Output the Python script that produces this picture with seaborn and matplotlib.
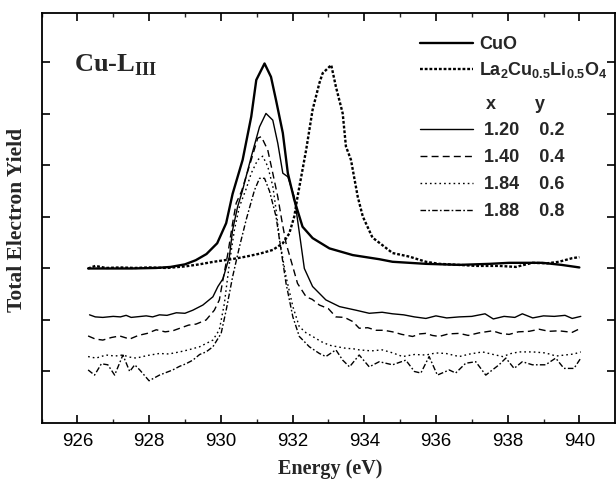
import numpy as np
import pandas as pd
import matplotlib
matplotlib.use("Agg")
import matplotlib.pyplot as plt
from matplotlib.lines import Line2D
from matplotlib.ticker import MultipleLocator, NullFormatter
import seaborn as sns

# ---------------- data ----------------
cuo_x = [926.3, 926.8, 927.5, 928.2, 928.6, 929.0, 929.3, 929.6, 929.9, 930.15, 930.33,
         930.61, 930.85, 930.99, 931.22, 931.40, 931.54, 931.73, 931.87, 932.05, 932.28,
         932.56, 933.03, 933.68, 934.42, 934.79, 935.72, 936.65, 937.5, 938.04, 938.97,
         939.5, 940.0]
cuo_y = [3.00, 3.00, 3.00, 3.01, 3.03, 3.08, 3.16, 3.28, 3.49, 3.88, 4.45,
         5.11, 5.95, 6.66, 6.98, 6.72, 6.27, 5.63, 4.85, 4.33, 3.81,
         3.59, 3.39, 3.26, 3.18, 3.13, 3.09, 3.07, 3.09, 3.11, 3.11,
         3.07, 3.02]

la_x = [926.3, 926.5, 926.8, 927.2, 927.6, 928.0, 928.5, 929.0, 929.4, 929.8, 930.3,
        930.7, 931.1, 931.45, 931.73, 931.91, 932.05, 932.14, 932.38, 932.56, 932.75,
        932.84, 933.08, 933.21, 933.40, 933.49, 933.63, 933.82, 933.96, 934.23, 934.42,
        934.79, 935.26, 935.72, 936.09, 936.65, 937.11, 937.76, 938.23, 938.69, 939.1,
        939.43, 939.8, 940.0]
la_y = [3.00, 3.05, 3.01, 3.02, 3.01, 3.02, 3.01, 3.04, 3.08, 3.13, 3.18,
        3.23, 3.29, 3.36, 3.49, 3.68, 4.01, 4.39, 5.30, 6.08, 6.60,
        6.79, 6.95, 6.53, 6.01, 5.37, 5.11, 4.39, 4.01, 3.60, 3.50,
        3.30, 3.23, 3.13, 3.09, 3.07, 3.05, 3.05, 3.03, 3.11, 3.10,
        3.13, 3.20, 3.22]

s02_x = [926.34, 926.5, 926.71, 927.0, 927.2, 927.36, 927.5, 927.92, 928.1, 928.29, 928.5,
         928.76, 929.0, 929.22, 929.5, 929.78, 929.92, 930.06, 930.24, 930.33, 930.47,
         930.6, 930.85, 931.08, 931.26, 931.45, 931.59, 931.73, 931.87, 932.05, 932.19,
         932.33, 932.56, 932.93, 933.31, 933.77, 934.14, 934.5, 934.79, 935.1, 935.4,
         935.72, 936.0, 936.3, 936.65, 937.0, 937.37, 937.6, 937.9, 938.2, 938.41,
         938.7, 939.0, 939.3, 939.6, 939.8, 940.04]
s02_y = [2.10, 2.06, 2.05, 2.07, 2.06, 2.09, 2.05, 2.08, 2.06, 2.10, 2.09,
         2.14, 2.13, 2.19, 2.29, 2.45, 2.65, 2.80, 3.23, 3.75, 4.20,
         4.50, 5.17, 5.75, 6.01, 5.88, 5.43, 4.85, 4.78, 4.39, 3.70,
         3.00, 2.65, 2.39, 2.26, 2.19, 2.13, 2.15, 2.12, 2.10, 2.06,
         2.03, 2.08, 2.04, 2.06, 2.07, 2.12, 2.02, 2.07, 2.05, 2.12,
         2.04, 2.08, 2.07, 2.09, 2.03, 2.07]

s04_x = [926.3, 926.5, 926.71, 926.95, 927.18, 927.46, 927.7, 927.95, 928.2, 928.45, 928.66,
         928.9, 929.1, 929.31, 929.59, 929.82, 929.96, 930.06, 930.2, 930.33, 930.43,
         930.58, 930.85, 931.03, 931.13, 931.31, 931.45, 931.59, 931.7, 931.82, 932.01,
         932.14, 932.38, 932.55, 932.75, 933.0, 933.21, 933.45, 933.68, 933.86, 934.1,
         934.33, 934.55, 934.79, 935.05, 935.35, 935.55, 935.72, 935.9, 936.09, 936.35,
         936.65, 936.9, 937.2, 937.58, 937.8, 938.04, 938.3, 938.6, 938.88, 939.15,
         939.43, 939.8, 940.04]
s04_y = [1.69, 1.63, 1.61, 1.66, 1.69, 1.63, 1.70, 1.74, 1.81, 1.77, 1.79,
         1.85, 1.90, 1.92, 2.00, 2.19, 2.39, 2.78, 3.30, 3.88, 4.27,
         4.50, 5.11, 5.53, 5.56, 5.30, 4.85, 4.39, 3.94, 3.49, 3.03,
         2.71, 2.45, 2.40, 2.29, 2.22, 2.06, 2.05, 1.97, 1.84, 1.85,
         1.80, 1.80, 1.77, 1.72, 1.68, 1.73, 1.74, 1.70, 1.68, 1.73,
         1.74, 1.70, 1.75, 1.79, 1.74, 1.72, 1.77, 1.78, 1.82, 1.78,
         1.79, 1.76, 1.84]

s06_x = [926.3, 926.52, 926.8, 927.05, 927.27, 927.45, 927.64, 927.95, 928.29, 928.55, 928.85,
         929.1, 929.41, 929.78, 929.96, 930.1, 930.24, 930.38, 930.52, 930.71, 930.85,
         931.03, 931.17, 931.31, 931.45, 931.55, 931.64, 931.82, 932.01, 932.19, 932.38,
         932.56, 932.8, 933.03, 933.25, 933.49, 933.7, 933.86, 934.2, 934.5, 934.8,
         935.07, 935.4, 935.72, 936.0, 936.28, 936.65, 936.95, 937.3, 937.6, 937.86,
         938.1, 938.32, 938.7, 939.06, 939.35, 939.6, 939.85, 940.04]
s06_y = [1.29, 1.26, 1.32, 1.30, 1.32, 1.28, 1.26, 1.31, 1.35, 1.34, 1.38,
         1.42, 1.48, 1.61, 1.81, 2.32, 3.10, 3.75, 4.20, 4.55, 4.85,
         5.11, 5.18, 4.98, 4.60, 4.10, 3.55, 2.84, 2.26, 1.87, 1.75,
         1.68, 1.58, 1.51, 1.48, 1.45, 1.44, 1.42, 1.40, 1.42, 1.36,
         1.29, 1.33, 1.32, 1.36, 1.35, 1.29, 1.34, 1.38, 1.33, 1.29,
         1.35, 1.38, 1.38, 1.36, 1.30, 1.32, 1.34, 1.38]

s08_x = [926.3, 926.48, 926.67, 926.85, 927.04, 927.27, 927.46, 927.6, 927.74, 928.0, 928.29,
         928.66, 928.85, 929.03, 929.22, 929.41, 929.59, 929.78, 930.01, 930.15, 930.33,
         930.52, 930.71, 930.85, 930.94, 931.08, 931.22, 931.36, 931.54, 931.68, 931.82,
         932.01, 932.19, 932.47, 932.75, 932.93, 933.21, 933.4, 933.59, 933.86, 934.14,
         934.42, 934.79, 935.16, 935.4, 935.58, 935.81, 936.04, 936.37, 936.55, 936.83,
         937.11, 937.39, 937.76, 937.95, 938.18, 938.41, 938.69, 939.06, 939.34, 939.57,
         939.85, 940.04]
s08_y = [1.03, 0.93, 1.15, 1.13, 0.93, 1.32, 1.00, 1.13, 1.03, 0.82, 0.93,
         1.03, 1.10, 1.15, 1.22, 1.33, 1.38, 1.48, 1.74, 2.19, 2.84,
         3.42, 3.95, 4.30, 4.52, 4.75, 4.75, 4.50, 4.01, 3.36, 2.71,
         2.06, 1.68, 1.48, 1.35, 1.29, 1.42, 1.22, 1.09, 1.32, 1.09,
         1.19, 1.13, 1.22, 1.00, 0.97, 1.29, 0.93, 1.03, 0.97, 1.16,
         1.19, 0.93, 1.13, 1.26, 1.06, 1.19, 1.13, 1.13, 1.26, 1.06,
         1.06, 1.26]

legend_x = ["1.20", "1.40", "1.84", "1.88"]
legend_y = ["0.2", "0.4", "0.6", "0.8"]
x_ticks = [926, 928, 930, 932, 934, 936, 938, 940]

# ---------------- style ----------------
sns.set_style("ticks")
plt.rcParams["font.family"] = ["Liberation Sans", "DejaVu Sans"]
plt.rcParams["mathtext.fontset"] = "custom"
plt.rcParams["mathtext.rm"] = "Liberation Sans:bold"
plt.rcParams["mathtext.bf"] = "Liberation Sans:bold"
plt.rcParams["mathtext.sf"] = "Liberation Serif:bold"
plt.rcParams["mathtext.default"] = "rm"

fig = plt.figure(figsize=(6.16, 4.80), dpi=100)
ax = fig.add_axes([41.5 / 616, 1 - 423 / 480, 573 / 616, 410 / 480])

series = [
    (cuo_x, cuo_y, dict(lw=1.7, ls="-")),
    (la_x, la_y, dict(lw=1.7, ls=(0, (1.2, 0.8)))),
    (s02_x, s02_y, dict(lw=1.0, ls="-")),
    (s04_x, s04_y, dict(lw=1.0, ls=(0, (5, 3)))),
    (s06_x, s06_y, dict(lw=1.0, ls=(0, (1.2, 2.2)))),
    (s08_x, s08_y, dict(lw=1.0, ls=(0, (4, 1.6, 1.2, 1.6)))),
]
for xs, ys, kw in series:
    sns.lineplot(x=xs, y=ys, ax=ax, color="black", sort=False, estimator=None,
                 linewidth=kw["lw"], linestyle=kw["ls"], legend=False)

ax.set_xlim(925.0, 940.98)
ax.set_ylim(0, 7.96)
ax.xaxis.set_minor_locator(MultipleLocator(1))
ax.set_xticks(x_ticks)
ax.set_yticks([1, 2, 3, 4, 5, 6, 7])
ax.yaxis.set_major_formatter(NullFormatter())
ax.tick_params(axis="both", which="major", direction="in", length=6, width=1.2,
               top=True, right=True, labelsize=13.5, pad=7, colors="black")
ax.tick_params(axis="x", which="minor", direction="in", length=3, width=1.0, top=True)
for s in ax.spines.values():
    s.set_linewidth(1.3)
    s.set_color("black")

ax.set_xlabel("Energy (eV)", family="Liberation Serif", fontweight="bold",
              fontsize=14.5, va="center")
ax.xaxis.set_label_coords(0.504, -0.112)
ax.set_ylabel("Total Electron Yield", family="Liberation Serif", fontweight="bold",
              fontsize=15.5, va="center")
ax.yaxis.set_label_coords(-0.043, 0.495)

ax.text(0.057, 0.856, r"Cu-L$_{\mathsf{III}}$", transform=ax.transAxes,
        family="Liberation Serif", fontweight="bold", fontsize=19, va="baseline")

legprop = {"family": "Liberation Sans", "weight": "bold", "size": 13}

# legend part 1: reference compounds
h1 = [Line2D([], [], color="black", lw=1.7, ls="-"),
      Line2D([], [], color="black", lw=1.7, ls=(0, (1.2, 0.8)))]
l1 = ["CuO", r"La$_{2}$Cu$_{0.5}$Li$_{0.5}$O$_{4}$"]
leg1 = ax.legend(h1, l1, loc="upper left", bbox_to_anchor=(0.661, 0.944),
                 frameon=False, borderpad=0, borderaxespad=0, handlelength=2.9,
                 handletextpad=0.35, labelspacing=0.4, prop=legprop)
ax.add_artist(leg1)

# header of the x / y table
ax.text(0.785, 0.776, "x", transform=ax.transAxes, ha="center", va="center",
        family="Liberation Sans", fontweight="bold", fontsize=13)
ax.text(0.869, 0.776, "y", transform=ax.transAxes, ha="center", va="center",
        family="Liberation Sans", fontweight="bold", fontsize=13)

# legend part 2: samples
h2, l2 = [], []
for (xs, ys, kw), lx, ly in zip(series[2:], legend_x, legend_y):
    h2.append(Line2D([], [], color="black", lw=kw["lw"], ls=kw["ls"]))
    l2.append(f"{lx}    {ly}")
leg2 = ax.legend(h2, l2, loc="upper left", bbox_to_anchor=(0.661, 0.733),
                 frameon=False, borderpad=0, borderaxespad=0, handlelength=2.9,
                 handletextpad=0.62, labelspacing=0.545, prop=legprop)

fig.savefig("out.png", dpi=100)
